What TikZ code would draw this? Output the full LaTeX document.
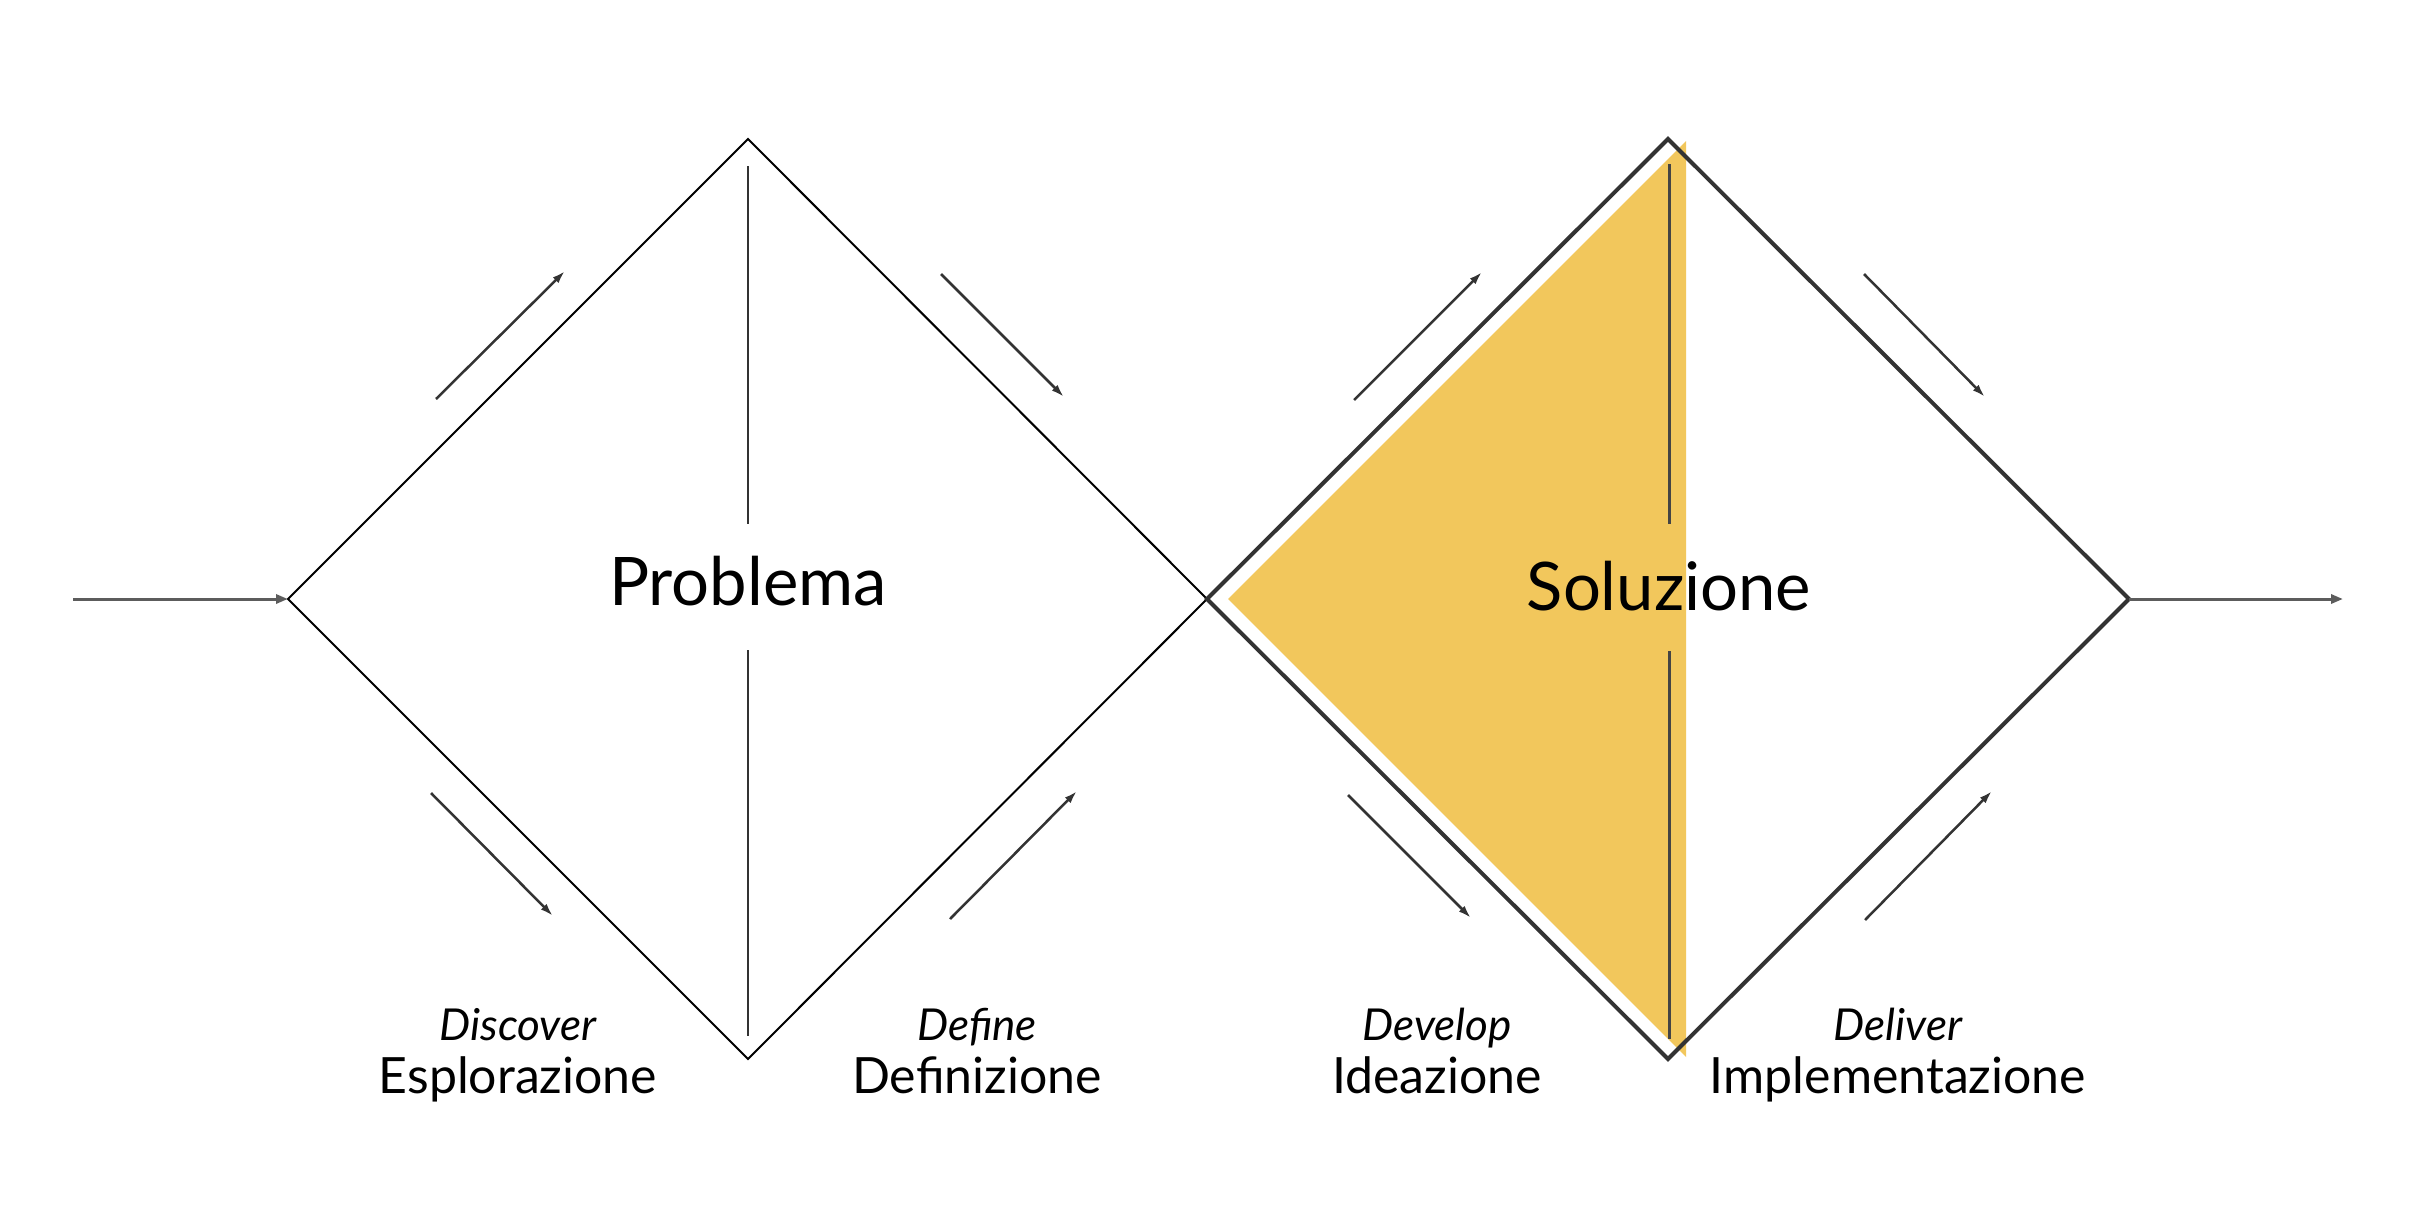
\documentclass[tikz,border=0pt]{standalone}
\usepackage{fontspec}
\setmainfont{Lato}
\usetikzlibrary{arrows.meta}
\definecolor{ddyellow}{HTML}{F2C75C}
\definecolor{ddgray}{HTML}{333333}
\definecolor{ddline}{HTML}{444444}
\begin{document}
\begin{tikzpicture}[x=1pt,y=-1pt,
  thindia/.style={draw=black,line width=2pt,line join=miter},
  thickdia/.style={draw=ddgray,line width=4pt,line join=miter},
  vline/.style={draw=ddgray,line width=2pt},
  vlinetwo/.style={draw=ddline,line width=3pt},
  flowarrow/.style={draw=ddgray!80,line width=3pt,-{Triangle[open,length=12pt,width=9pt]}},
  dirarrow/.style={draw=ddgray,line width=2.5pt,-{Latex[length=13pt,width=8pt]}},
  bigtext/.style={font=\fontsize{67}{72}\selectfont,anchor=base,inner sep=0pt},
  phase/.style={font=\fontsize{50}{56}\selectfont,anchor=base,inner sep=0pt},
  phaseit/.style={font=\fontsize{44}{50}\selectfont\itshape,anchor=base,inner sep=0pt}]
\useasboundingbox (0,0) rectangle (2417,1210);
\fill[white] (0,0) rectangle (2417,1210);
% coordinates
\coordinate (in) at (73,599);
\coordinate (aL) at (288,599);
\coordinate (aT) at (748,139);
\coordinate (mid) at (1207,599);
\coordinate (aB) at (748,1059);
\coordinate (bT) at (1668,139);
\coordinate (bR) at (2129,599);
\coordinate (bB) at (1668,1059);
\coordinate (out) at (2343,599);
% yellow triangle
\coordinate (yL) at (1228,599);
\coordinate (yT) at (1686,141);
\coordinate (yB) at (1686,1057);
\fill[ddyellow] (yL) -- (yT) -- (yB) -- cycle;
% diamonds
\draw[thindia] (aL) -- (aT) -- (mid) -- (aB) -- cycle;
\draw[thickdia] (mid) -- (bT) -- (bR) -- (bB) -- cycle;
% flow arrows
\draw[flowarrow] (in) -- (aL);
\draw[flowarrow] (bR) -- (out);
% vertical lines
\coordinate (v1a) at (748,166); \coordinate (v1b) at (748,524);
\coordinate (v2a) at (748,650); \coordinate (v2b) at (748,1036);
\coordinate (v3a) at (1669,164); \coordinate (v3b) at (1669,524);
\coordinate (v4a) at (1669,651); \coordinate (v4b) at (1669,1039);
\draw[vline] (v1a) -- (v1b);
\draw[vline] (v2a) -- (v2b);
\draw[vlinetwo] (v3a) -- (v3b);
\draw[vlinetwo] (v4a) -- (v4b);
% direction arrows
\coordinate (d1s) at (436,399); \coordinate (d1e) at (565,271);
\coordinate (d2s) at (941,274); \coordinate (d2e) at (1064,397);
\coordinate (d3s) at (431,793); \coordinate (d3e) at (553,916);
\coordinate (d4s) at (950,919); \coordinate (d4e) at (1077,791);
\coordinate (d5s) at (1354,400); \coordinate (d5e) at (1482,272);
\coordinate (d6s) at (1864,274); \coordinate (d6e) at (1985,397);
\coordinate (d7s) at (1348,795); \coordinate (d7e) at (1471,918);
\coordinate (d8s) at (1865,920); \coordinate (d8e) at (1992,791);
\foreach \i in {1,...,8} {\draw[dirarrow] (d\i s) -- (d\i e);}
% texts
\node[bigtext] (prob) at (748,605) {Problema};
\node[bigtext] (sol) at (1669,610) {Soluzione};
\node[phaseit] (t1) at (518,1040) {Discover};
\node[phase] (t1b) at (518,1093) {Esplorazione};
\node[phaseit] (t2) at (977,1040) {Define};
\node[phase] (t2b) at (977,1093) {Definizione};
\node[phaseit] (t3) at (1437,1040) {Develop};
\node[phase] (t3b) at (1437,1093) {Ideazione};
\node[phaseit] (t4) at (1898,1040) {Deliver};
\node[phase] (t4b) at (1898,1093) {Implementazione};
\end{tikzpicture}
\end{document}
